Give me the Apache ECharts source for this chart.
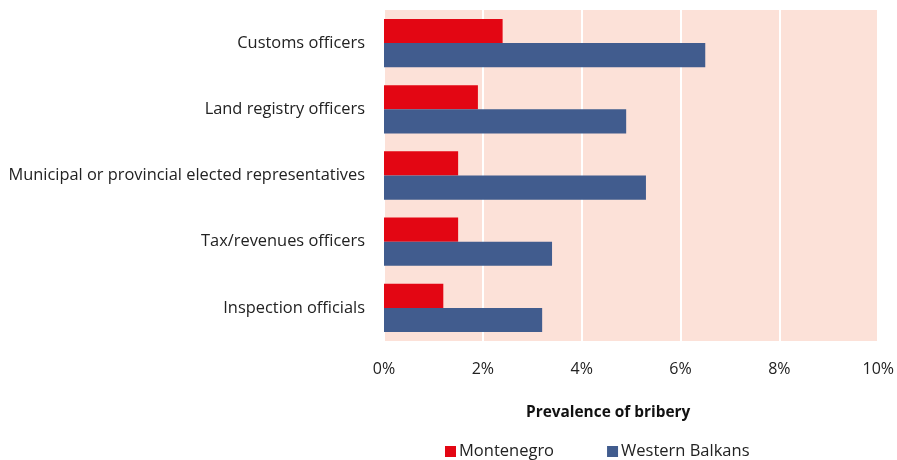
<!DOCTYPE html>
<html>
<head>
<meta charset="utf-8">
<style>
html, body { margin: 0; padding: 0; background: #fff; }
#main { width: 897px; height: 460px; }
</style>
<script src="https://cdn.jsdelivr.net/npm/echarts@6/dist/echarts.min.js"></script>
</head>
<body>
<div id="main"></div>
<script>
var categories = ['Customs officers', 'Land registry officers', 'Municipal or provincial elected representatives', 'Tax/revenues officers', 'Inspection officials'];
var montenegro = [2.4, 1.9, 1.5, 1.5, 1.2];
var westernBalkans = [6.5, 4.9, 5.3, 3.4, 3.2];
var xTicks = [0, 2, 4, 6, 8, 10];

var font = 'Open Sans';
var chart = echarts.init(document.getElementById('main'));
chart.setOption({
    animation: false,
    textStyle: { fontFamily: font },
    grid: {
        left: 384, right: 18, top: 10, bottom: 119,
        show: true, backgroundColor: '#FCE1D8', borderWidth: 0
    },
    legend: {
        bottom: -5, left: 440,
        itemWidth: 11, itemHeight: 11, itemGap: 53,
        icon: 'rect',
        textStyle: { fontSize: 16.5, color: '#222', fontFamily: font, padding: [0, 0, 0, -2] },
        data: ['Montenegro', 'Western Balkans']
    },
    xAxis: {
        type: 'value', min: 0, max: xTicks[xTicks.length - 1], interval: 2,
        name: 'Prevalence of bribery', nameLocation: 'middle', nameGap: 64,
        nameTextStyle: { fontWeight: 'bold', fontSize: 15.4, color: '#111', padding: [0, 46, 0, 0] },
        axisLine: { show: false }, axisTick: { show: false },
        axisLabel: { fontSize: 16, color: '#222', margin: 20, formatter: function (v) { return v + '%'; } },
        splitLine: { lineStyle: { color: '#fff', width: 2 } }
    },
    yAxis: {
        type: 'category', inverse: true, data: categories,
        axisLine: { show: false }, axisTick: { show: false },
        axisLabel: { fontSize: 16.4, color: '#222', margin: 19 }
    },
    series: [
        { name: 'Montenegro', type: 'bar', data: montenegro, barGap: '0%', barCategoryGap: '27%', itemStyle: { color: '#E30613' } },
        { name: 'Western Balkans', type: 'bar', data: westernBalkans, barGap: '0%', barCategoryGap: '27%', itemStyle: { color: '#415C8E' } }
    ]
});
</script>
</body>
</html>
